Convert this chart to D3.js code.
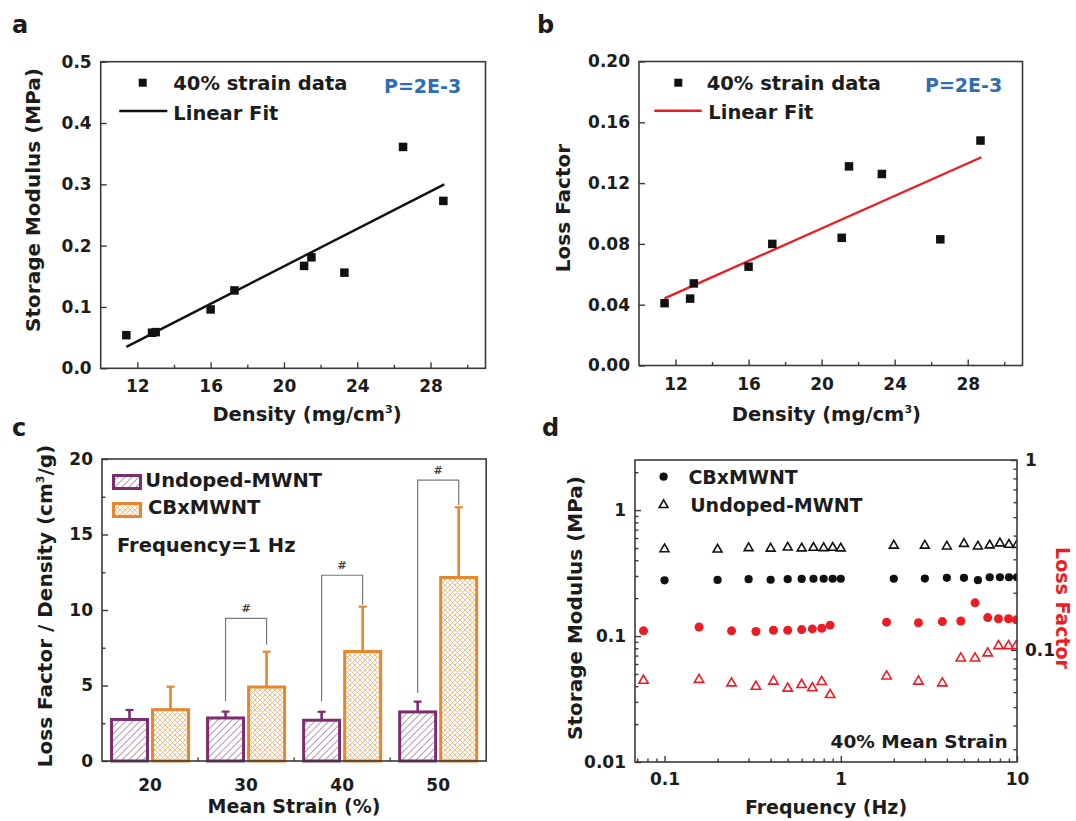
<!DOCTYPE html>
<html>
<head>
<meta charset="utf-8">
<script src="https://cdn.jsdelivr.net/npm/d3@7"></script>
<style>
  html, body { margin: 0; padding: 0; background: #ffffff; }
  text { font-family: "DejaVu Sans", "Liberation Sans", sans-serif; font-weight: bold; }
</style>
</head>
<body>
<svg id="fig" width="1076" height="821" xmlns="http://www.w3.org/2000/svg"></svg>
<script>
// ---------- (a), (b): samples tested at 40% strain ----------
const density = [11.4, 12.8, 13.0, 16.0, 17.3, 21.1, 21.5, 23.3, 26.5, 28.7];
const storageModulus = [0.054, 0.058, 0.059, 0.096, 0.127, 0.167, 0.181, 0.156, 0.361, 0.273];
const lossFactor = [0.041, 0.044, 0.054, 0.065, 0.080, 0.084, 0.131, 0.126, 0.083, 0.148];
// end points of the linear fits
const storageFitX = [11.4, 28.75];
const storageFitY = [0.035, 0.300];
const lossFitX = [11.4, 28.75];
const lossFitY = [0.0442, 0.137];
const densityTicks = [12, 16, 20, 24, 28];
const densityMinorTicks = [14, 18, 22, 26, 30];
const storageTicks = [0, 0.1, 0.2, 0.3, 0.4, 0.5];
const lossTicks = [0, 0.04, 0.08, 0.12, 0.16, 0.20];

// ---------- (c): loss factor / density vs mean strain ----------
const strainGroups = ["20", "30", "40", "50"];
const seriesNames = ["Undoped-MWNT", "CBxMWNT"];
const undopedMean = [2.75, 2.85, 2.70, 3.25];
const undopedErr = [0.63, 0.42, 0.56, 0.68];
const cbMean = [3.40, 4.90, 7.25, 12.15];
const cbErr = [1.52, 2.34, 2.97, 4.65];
const sigGroups = ["30", "40", "50"];
const sigTop = [9.45, 12.3, 18.6];
const sigLeftFoot = [3.95, 3.95, 4.5];
const sigRightFoot = [7.7, 10.35, 16.95];
const ratioTicks = [0, 5, 10, 15, 20];
const ratioMinorTicks = [2.5, 7.5, 12.5, 17.5];

// ---------- (d): frequency sweep at 40% mean strain ----------
const storageFreq = [0.1, 0.2, 0.3, 0.4, 0.5, 0.6, 0.7, 0.8, 0.9, 1, 2, 3, 4, 5, 6, 7, 8, 9, 10];
const cbStorage = [0.277, 0.279, 0.283, 0.280, 0.283, 0.284, 0.285, 0.285, 0.285, 0.285,
                   0.285, 0.286, 0.290, 0.290, 0.278, 0.293, 0.293, 0.293, 0.293];
const undopedStorage = [0.490, 0.487, 0.500, 0.495, 0.505, 0.497, 0.503, 0.500, 0.503, 0.497,
                        0.523, 0.523, 0.515, 0.540, 0.515, 0.525, 0.545, 0.532, 0.530];
const lossFreq = [0.076, 0.157, 0.24, 0.33, 0.415, 0.5, 0.6, 0.69, 0.78, 0.87,
                  1.82, 2.76, 3.77, 4.8, 5.78, 6.82, 7.85, 8.95, 9.9];
const cbLoss = [0.126, 0.132, 0.126, 0.125, 0.127, 0.127, 0.128, 0.129, 0.130, 0.135,
                0.140, 0.139, 0.141, 0.142, 0.177, 0.148, 0.146, 0.146, 0.144];
const undopedLoss = [0.0690, 0.0697, 0.0668, 0.0641, 0.0683, 0.0627, 0.0655, 0.0630, 0.0680, 0.0580,
                     0.0727, 0.0683, 0.0668, 0.0904, 0.0904, 0.0961, 0.105, 0.105, 0.105];
const freqTicks = [0.1, 1, 10];
const freqMinorTicks = [0.07, 0.08, 0.09, 0.2, 0.3, 0.4, 0.5, 0.6, 0.7, 0.8, 0.9, 2, 3, 4, 5, 6, 7, 8, 9];
const modulusTicks = [0.01, 0.1, 1];
const modulusMinorTicks = [0.02, 0.03, 0.04, 0.05, 0.06, 0.07, 0.08, 0.09, 0.2, 0.3, 0.4, 0.5, 0.6, 0.7, 0.8, 0.9, 2];
const lossFactorTicks = [0.1, 1];
const lossFactorMinorTicks = [0.03, 0.04, 0.05, 0.06, 0.07, 0.08, 0.09, 0.2, 0.3, 0.4, 0.5, 0.6, 0.7, 0.8, 0.9];

// ---------- shared styling ----------
const INK = "#1c1c1c";
const FRAME = "#3a3a3a";
const RED = "#ec1c24";
const BLUE = "#2d6db5";
const PURPLE = "#7d2d6c";
const PURPLE_HATCH = "#b8a0b5";
const ORANGE = "#e8862c";
const ORANGE_HATCH = "#f2b57c";

const svg = d3.select("#fig");

function label(g, x, y, s, size, opts = {}) {
  return g.append("text")
    .attr("x", x).attr("y", y)
    .attr("font-size", size)
    .attr("text-anchor", opts.anchor || "start")
    .attr("fill", opts.fill || INK)
    .text(s);
}

function rotLabel(g, x, y, angle, size, fill) {
  return g.append("text")
    .attr("transform", `translate(${x},${y}) rotate(${angle})`)
    .attr("text-anchor", "middle")
    .attr("font-size", size)
    .attr("fill", fill || INK);
}

function frame(g, xs, ys) {
  g.append("rect")
    .attr("x", xs.range()[0]).attr("y", ys.range()[1])
    .attr("width", xs.range()[1] - xs.range()[0])
    .attr("height", ys.range()[0] - ys.range()[1])
    .attr("fill", "none").attr("stroke", FRAME).attr("stroke-width", 1.6);
}

function styleAxis(sel, size) {
  sel.select(".domain").remove();
  sel.selectAll(".tick line").attr("stroke", FRAME).attr("stroke-width", 1.4);
  sel.selectAll(".tick text").attr("font-size", size || 17).attr("fill", INK);
  return sel;
}

// ---------------------------------------------------------------
// Panels (a) and (b): scatter with linear fit
// ---------------------------------------------------------------
function scatterPanel(opt) {
  const g = svg.append("g");
  const x = d3.scaleLinear().domain([10, 31]).range(opt.xr);
  const y = d3.scaleLinear().domain(opt.yDomain).range(opt.yr);

  g.append("g").attr("transform", `translate(0,${opt.yr[0]})`)
    .call(d3.axisBottom(x).tickValues(densityTicks).tickSize(-6).tickSizeOuter(0)
      .tickPadding(12).tickFormat(d3.format("d")))
    .call(styleAxis);
  g.append("g").attr("transform", `translate(0,${opt.yr[0]})`)
    .call(d3.axisBottom(x).tickValues(densityMinorTicks).tickSize(-3.5).tickSizeOuter(0).tickFormat(""))
    .call(styleAxis);
  g.append("g").attr("transform", `translate(${opt.xr[0]},0)`)
    .call(d3.axisLeft(y).tickValues(opt.yTicks).tickSize(-6).tickSizeOuter(0)
      .tickPadding(9).tickFormat(d3.format(opt.fmt)))
    .call(styleAxis);
  frame(g, x, y);

  // fit line
  const fit = d3.line().x(d => x(d[0])).y(d => y(d[1]));
  g.append("path")
    .attr("d", fit(d3.zip(opt.fitX, opt.fitY)))
    .attr("fill", "none").attr("stroke", opt.fitColor).attr("stroke-width", 2.4);

  // data points
  const s = 8.5;
  g.selectAll("rect.pt").data(d3.zip(density, opt.values)).join("rect")
    .attr("class", "pt")
    .attr("x", d => x(d[0]) - s / 2).attr("y", d => y(d[1]) - s / 2)
    .attr("width", s).attr("height", s).attr("fill", "#111");

  // legend
  const L = opt.legend;
  g.append("rect").attr("x", L.mx - 4).attr("y", L.my - 4).attr("width", 8).attr("height", 8).attr("fill", "#111");
  label(g, L.tx, L.ty1, "40% strain data", 19.5);
  g.append("line").attr("x1", L.lx0).attr("x2", L.lx1).attr("y1", L.ly).attr("y2", L.ly)
    .attr("stroke", opt.fitColor).attr("stroke-width", 2.6);
  label(g, L.tx2, L.ty2, "Linear Fit", 19.5);
  label(g, L.px, L.py, "P=2E-3", 19, { fill: BLUE });

  // titles
  const xt = g.append("text").attr("x", opt.xTitleX).attr("y", 421)
    .attr("text-anchor", "middle").attr("font-size", 19.5).attr("fill", INK);
  xt.append("tspan").text("Density (mg/cm");
  xt.append("tspan").attr("dy", -8).attr("font-size", 11).text("3");
  xt.append("tspan").attr("dy", 8).text(")");
  rotLabel(g, opt.yTitle[0], opt.yTitle[1], -90, 20).text(opt.yTitleText);
  label(g, opt.tag[0], opt.tag[1], opt.tagText, 24);
}

scatterPanel({
  xr: [100.7, 485.5], yr: [368.3, 61.7], yDomain: [0, 0.5], yTicks: storageTicks, fmt: ".1f",
  values: storageModulus, fitX: storageFitX, fitY: storageFitY, fitColor: "#111",
  legend: { mx: 142.7, my: 82.7, tx: 173.3, ty1: 90, lx0: 119.3, lx1: 167.3, ly: 111, tx2: 173.3, ty2: 119.5, px: 384, py: 92.5 },
  xTitleX: 307, yTitle: [40, 200], yTitleText: "Storage Modulus (MPa)", tag: [12, 33], tagText: "a"
});

scatterPanel({
  xr: [639, 1022.5], yr: [365.5, 61.5], yDomain: [0, 0.2], yTicks: lossTicks, fmt: ".2f",
  values: lossFactor, fitX: lossFitX, fitY: lossFitY, fitColor: RED,
  legend: { mx: 678.3, my: 82.7, tx: 706.7, ty1: 90, lx0: 654.3, lx1: 701.7, ly: 110.7, tx2: 708.3, ty2: 118.5, px: 925, py: 92 },
  xTitleX: 826.4, yTitle: [569.5, 208], yTitleText: "Loss Factor", tag: [537, 33], tagText: "b"
});

// ---------------------------------------------------------------
// Panel (c): grouped hatched bars with error bars
// ---------------------------------------------------------------
(function () {
  const g = svg.append("g");
  const defs = svg.append("defs");

  const p1 = defs.append("pattern").attr("id", "hatchUndoped").attr("patternUnits", "userSpaceOnUse")
    .attr("width", 7).attr("height", 7);
  p1.append("rect").attr("width", 7).attr("height", 7).attr("fill", "#fff");
  p1.append("path").attr("d", "M-1,1 l2,-2 M0,7 l7,-7 M6,8 l2,-2")
    .attr("stroke", PURPLE_HATCH).attr("stroke-width", 1.1);

  const p2 = defs.append("pattern").attr("id", "hatchCB").attr("patternUnits", "userSpaceOnUse")
    .attr("width", 5).attr("height", 5);
  p2.append("rect").attr("width", 5).attr("height", 5).attr("fill", "#fff");
  p2.append("path").attr("d", "M-1,1 l2,-2 M0,5 l5,-5 M4,6 l2,-2 M-1,4 l2,2 M0,0 l5,5 M4,-1 l2,2")
    .attr("stroke", ORANGE_HATCH).attr("stroke-width", 0.9);

  const x = d3.scaleBand().domain(strainGroups).range([102, 486.2]);
  const xs = d3.scaleBand().domain(seriesNames).range([-40, 40]).paddingInner(0.05);
  const y = d3.scaleLinear().domain([0, 20]).range([761, 459]);

  g.append("g").attr("transform", `translate(${x.range()[0]},0)`)
    .call(d3.axisLeft(y).tickValues(ratioTicks).tickSize(-6).tickSizeOuter(0).tickPadding(9))
    .call(styleAxis);
  g.append("g").attr("transform", `translate(${x.range()[0]},0)`)
    .call(d3.axisLeft(y).tickValues(ratioMinorTicks).tickSize(-3.5).tickSizeOuter(0).tickFormat(""))
    .call(styleAxis);
  g.append("g").attr("transform", `translate(0,${y.range()[0]})`)
    .call(d3.axisBottom(x).tickSize(0).tickPadding(12 + 6))
    .call(styleAxis);
  // small separators between strain groups
  g.selectAll("line.sep").data(strainGroups.slice(1)).join("line").attr("class", "sep")
    .attr("x1", d => x(d)).attr("x2", d => x(d))
    .attr("y1", y(0)).attr("y2", y(0) - 3.5)
    .attr("stroke", FRAME).attr("stroke-width", 1.4);

  const series = [
    { name: seriesNames[0], mean: undopedMean, err: undopedErr, stroke: PURPLE, fill: "url(#hatchUndoped)" },
    { name: seriesNames[1], mean: cbMean, err: cbErr, stroke: ORANGE, fill: "url(#hatchCB)" }
  ];
  const sw = 3;
  const center = (grp, name) => x(grp) + x.bandwidth() / 2 + xs(name) + xs.bandwidth() / 2;

  series.forEach(s => {
    const rows = strainGroups.map((grp, i) => ({ grp, v: s.mean[i], e: s.err[i] }));
    // error bars (upper half only)
    g.selectAll(null).data(rows).join("line")
      .attr("x1", d => center(d.grp, s.name)).attr("x2", d => center(d.grp, s.name))
      .attr("y1", d => y(d.v)).attr("y2", d => y(d.v + d.e))
      .attr("stroke", s.stroke).attr("stroke-width", 2.6);
    g.selectAll(null).data(rows).join("line")
      .attr("x1", d => center(d.grp, s.name) - 4).attr("x2", d => center(d.grp, s.name) + 4)
      .attr("y1", d => y(d.v + d.e)).attr("y2", d => y(d.v + d.e))
      .attr("stroke", s.stroke).attr("stroke-width", 2.2);
    g.selectAll(null).data(rows).join("rect")
      .attr("x", d => x(d.grp) + x.bandwidth() / 2 + xs(s.name) + sw / 2)
      .attr("width", xs.bandwidth() - sw)
      .attr("y", d => y(d.v))
      .attr("height", d => y(0) - y(d.v))
      .attr("fill", s.fill).attr("stroke", s.stroke).attr("stroke-width", sw);
  });

  // significance brackets
  sigGroups.forEach((grp, i) => {
    const xl = center(grp, seriesNames[0]);
    const xr = center(grp, seriesNames[1]);
    g.append("path")
      .attr("d", `M${xl},${y(sigLeftFoot[i])}V${y(sigTop[i])}H${xr}V${y(sigRightFoot[i])}`)
      .attr("fill", "none").attr("stroke", "#7a7a7a").attr("stroke-width", 1.2);
    label(g, (xl + xr) / 2, y(sigTop[i]) - 6, "#", 11, { anchor: "middle", fill: "#444" });
  });

  frame(g, d3.scaleLinear().range(x.range()), y);

  // legend
  g.append("rect").attr("x", 113.5).attr("y", 475.5).attr("width", 27).attr("height", 13)
    .attr("fill", "url(#hatchUndoped)").attr("stroke", PURPLE).attr("stroke-width", 3);
  label(g, 145.3, 487, "Undoped-MWNT", 19.5);
  g.append("rect").attr("x", 113.5).attr("y", 503.5).attr("width", 27).attr("height", 13)
    .attr("fill", "url(#hatchCB)").attr("stroke", ORANGE).attr("stroke-width", 3);
  label(g, 148, 513.5, "CBxMWNT", 19.5);
  label(g, 117, 551.7, "Frequency=1 Hz", 19.5);

  const yt = rotLabel(g, 52, 606, -90, 20);
  yt.append("tspan").text("Loss Factor / Density (cm");
  yt.append("tspan").attr("dy", -8).attr("font-size", 11).text("3");
  yt.append("tspan").attr("dy", 8).text("/g)");
  label(g, 294, 813, "Mean Strain (%)", 19, { anchor: "middle" });
  label(g, 12, 436, "c", 24);
})();

// ---------------------------------------------------------------
// Panel (d): log-log frequency sweep, two y axes
// ---------------------------------------------------------------
(function () {
  const g = svg.append("g");
  const x = d3.scaleLog().domain([0.068, 10]).range([635, 1017]);
  const y = d3.scaleLog().domain([0.01, 2.5]).range([762, 460]);
  const y2 = d3.scaleLog().domain([0.0257, 1]).range([762, 460]);
  const fmt = d => (d >= 1 ? d3.format("d")(d) : String(d));

  g.append("g").attr("transform", `translate(0,${y.range()[0]})`)
    .call(d3.axisBottom(x).tickValues(freqTicks).tickSize(-6).tickSizeOuter(0).tickPadding(11).tickFormat(fmt))
    .call(styleAxis);
  g.append("g").attr("transform", `translate(0,${y.range()[0]})`)
    .call(d3.axisBottom(x).tickValues(freqMinorTicks).tickSize(-3.5).tickSizeOuter(0).tickFormat(""))
    .call(styleAxis);
  g.append("g").attr("transform", `translate(${x.range()[0]},0)`)
    .call(d3.axisLeft(y).tickValues(modulusTicks).tickSize(-6).tickSizeOuter(0).tickPadding(9).tickFormat(fmt))
    .call(styleAxis);
  g.append("g").attr("transform", `translate(${x.range()[0]},0)`)
    .call(d3.axisLeft(y).tickValues(modulusMinorTicks).tickSize(-3.5).tickSizeOuter(0).tickFormat(""))
    .call(styleAxis);
  g.append("g").attr("transform", `translate(${x.range()[1]},0)`)
    .call(d3.axisRight(y2).tickValues(lossFactorTicks).tickSize(-6).tickSizeOuter(0).tickPadding(8).tickFormat(fmt))
    .call(styleAxis);
  g.append("g").attr("transform", `translate(${x.range()[1]},0)`)
    .call(d3.axisRight(y2).tickValues(lossFactorMinorTicks).tickSize(-3.5).tickSizeOuter(0).tickFormat(""))
    .call(styleAxis);

  svg.select("defs").append("clipPath").attr("id", "clipD")
    .append("rect").attr("x", 635).attr("y", 460).attr("width", 382).attr("height", 302);
  const plot = g.append("g").attr("clip-path", "url(#clipD)");

  const tri = d3.symbol(d3.symbolTriangle, 34);
  const triRed = d3.symbol(d3.symbolTriangle, 38);

  // storage modulus (left axis)
  plot.selectAll(null).data(d3.zip(storageFreq, undopedStorage)).join("path")
    .attr("d", tri).attr("transform", d => `translate(${x(d[0])},${y(d[1])})`)
    .attr("fill", "none").attr("stroke", "#111").attr("stroke-width", 1.6);
  plot.selectAll(null).data(d3.zip(storageFreq, cbStorage)).join("circle")
    .attr("cx", d => x(d[0])).attr("cy", d => y(d[1])).attr("r", 4.1).attr("fill", "#111");

  // loss factor (right axis)
  plot.selectAll(null).data(d3.zip(lossFreq, undopedLoss)).join("path")
    .attr("d", triRed).attr("transform", d => `translate(${x(d[0])},${y2(d[1])})`)
    .attr("fill", "none").attr("stroke", RED).attr("stroke-width", 1.6);
  plot.selectAll(null).data(d3.zip(lossFreq, cbLoss)).join("circle")
    .attr("cx", d => x(d[0])).attr("cy", d => y2(d[1])).attr("r", 4.5).attr("fill", RED);

  frame(g, x, y);

  // legend
  g.append("circle").attr("cx", 663.6).attr("cy", 476.7).attr("r", 4.1).attr("fill", "#111");
  label(g, 688.4, 483.5, "CBxMWNT", 19);
  g.append("path").attr("d", tri).attr("transform", "translate(663.6,505)")
    .attr("fill", "none").attr("stroke", "#111").attr("stroke-width", 1.6);
  label(g, 690.2, 511.7, "Undoped-MWNT", 19);
  label(g, 1007.6, 748.3, "40% Mean Strain", 18.5, { anchor: "end" });

  rotLabel(g, 582, 608, -90, 20).text("Storage Modulus (MPa)");
  rotLabel(g, 1056, 608, 90, 19, RED).text("Loss Factor");
  label(g, 826, 814, "Frequency (Hz)", 19, { anchor: "middle" });
  label(g, 542, 436, "d", 24);
})();
</script>
</body>
</html>
